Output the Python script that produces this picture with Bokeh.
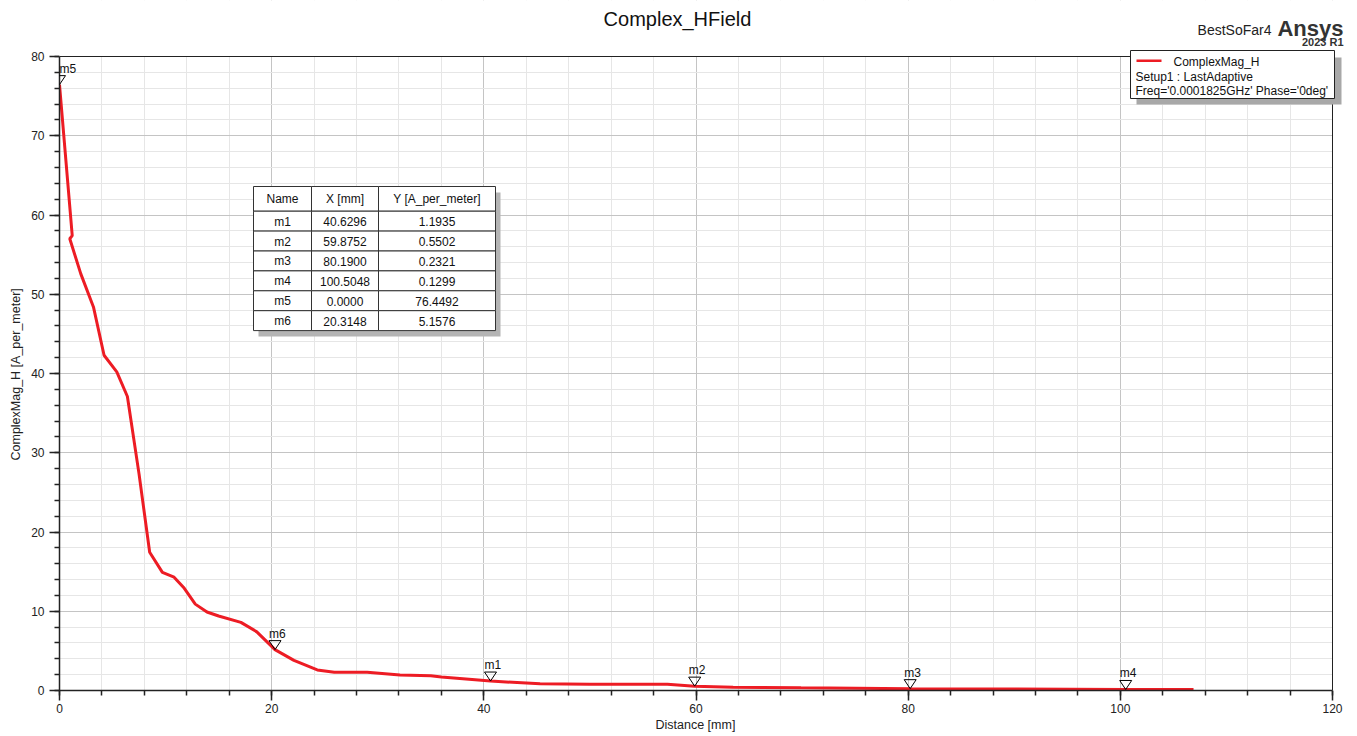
from bokeh.plotting import figure
from bokeh.models import (Range1d, SingleIntervalTicker, Label, LabelSet, BoxAnnotation,
                          ColumnDataSource, PolyAnnotation, Title)
from bokeh.core.properties import value
from bokeh.embed import file_html
from bokeh.resources import INLINE

# ---------------- data ----------------
curve_x = [0.0, 1.2, 0.97, 2.0, 3.2, 4.2, 5.4, 6.4, 7.5, 8.5, 9.7, 10.8, 11.7, 12.8, 13.9,
           15.0, 17.1, 18.6, 20.31, 22.1, 24.3, 25.9, 29.0, 32.1, 35.0, 36.0, 40.63, 45.3,
           50.0, 57.3, 59.88, 63.5, 69.9, 80.19, 90.0, 100.5, 106.9]
curve_y = [76.45, 57.4, 57.0, 52.6, 48.4, 42.3, 40.2, 37.1, 27.3, 17.45, 14.9, 14.3, 13.0, 10.9,
           9.9, 9.4, 8.6, 7.4, 5.16, 3.8, 2.6, 2.3, 2.3, 1.95, 1.85, 1.7, 1.19, 0.85,
           0.8, 0.78, 0.55, 0.42, 0.34, 0.23, 0.18, 0.13, 0.12]

marker_names = ["m1", "m2", "m3", "m4", "m5", "m6"]
marker_x = [40.6296, 59.8752, 80.1900, 100.5048, 0.0000, 20.3148]
marker_y = [1.1935, 0.5502, 0.2321, 0.1299, 76.4492, 5.1576]

table_header = ["Name", "X [mm]", "Y [A_per_meter]"]
table_x_text = ["40.6296", "59.8752", "80.1900", "100.5048", "0.0000", "20.3148"]
table_y_text = ["1.1935", "0.5502", "0.2321", "0.1299", "76.4492", "5.1576"]

x_ticks_interval = 20
y_ticks_interval = 10
x_label = "Distance [mm]"
y_label = "ComplexMag_H [A_per_meter]"

FONT = "Liberation Sans"

# ---------------- layout ----------------
W, H = 1357, 736
MB_L, MB_B = 59, 46          # left / bottom borders of the canvas
PLOT_W, PLOT_H = 1273, 634   # pixel size of the 0..120 x 0..80 plot box
X0, X1, Y0, Y1 = 0, 120, 0, 80
XPX = PLOT_W / (X1 - X0)
YPX = PLOT_H / (Y1 - Y0)
# the frame also spans the header band and right margin (so texts there are not clipped)
X_END = X1 + (W - MB_L - PLOT_W) / XPX
Y_END = Y1 + (H - MB_B - PLOT_H) / YPX

# page -> frame screen coordinates
PL = MB_L
PB = H - MB_B
def sx(px):
    return px - PL
def sy(py):
    return PB - py

p = figure(width=W, height=H, output_backend="svg", toolbar_location=None,
           x_range=Range1d(X0, X_END), y_range=Range1d(Y0, Y_END),
           min_border_left=MB_L, min_border_right=0,
           min_border_top=0, min_border_bottom=MB_B)

p.outline_line_color = None
p.background_fill_color = "white"
p.border_fill_color = "white"

p.xaxis.ticker = SingleIntervalTicker(interval=x_ticks_interval, num_minor_ticks=5)
p.yaxis.ticker = SingleIntervalTicker(interval=y_ticks_interval, num_minor_ticks=5)
p.xgrid.ticker = p.xaxis.ticker
p.ygrid.ticker = p.yaxis.ticker
p.xaxis.bounds = (X0, X1)
p.yaxis.bounds = (Y0, Y1)

for ax in (p.xaxis, p.yaxis):
    ax.axis_line_color = "#222222"
    ax.axis_line_width = 1.5
    ax.major_tick_line_color = "#222222"
    ax.minor_tick_line_color = "#222222"
    ax.major_tick_line_width = 1.5
    ax.minor_tick_line_width = 1.5
    ax.major_tick_in = 0
    ax.major_tick_out = 10
    ax.minor_tick_in = 0
    ax.minor_tick_out = 5
    ax.major_label_text_font = FONT
    ax.major_label_text_font_size = "12px"
    ax.major_label_text_color = "#222222"

p.xaxis.major_label_standoff = 3
p.yaxis.major_label_standoff = 5

# axis titles, positioned along the plot box (not the extended frame)
p.add_layout(Title(text=y_label, align="left", offset=230, vertical_align="bottom",
                   standoff=11, text_font=FONT, text_font_size="12.5px",
                   text_font_style="normal", text_color="#222222"), "left")
p.add_layout(Title(text=x_label, align="left", offset=596, vertical_align="middle",
                   standoff=3, text_font=FONT, text_font_size="12.5px",
                   text_font_style="normal", text_color="#222222"), "below")

for g in (p.xgrid, p.ygrid):
    g.grid_line_color = "#c4c4c4"
    g.grid_line_width = 1
    g.minor_grid_line_color = "#e6e6e6"
    g.minor_grid_line_width = 1

# curve
p.line(curve_x, curve_y, line_color="#ED1C24", line_width=3)

# white covers outside the plot box (header band and right margin)
p.add_layout(BoxAnnotation(bottom=Y1, fill_color="white", fill_alpha=1, line_alpha=0))
p.add_layout(BoxAnnotation(left=X1, fill_color="white", fill_alpha=1, line_alpha=0))
# plot box border
p.add_layout(BoxAnnotation(left=X0, right=X1, bottom=Y0, top=Y1, fill_alpha=0,
                           line_color="#222222", line_alpha=1, line_width=1))

# markers (open downward triangles with tip on the point)
for mx, my in zip(marker_x, marker_y):
    p.add_layout(PolyAnnotation(
        xs=[mx - 6 / XPX, mx + 6 / XPX, mx],
        ys=[my + 9 / YPX, my + 9 / YPX, my],
        fill_alpha=0, line_color="black", line_alpha=1, line_width=1))

label_dx = [0 if mx - 6 / XPX < X0 else -6 for mx in marker_x]
msrc = ColumnDataSource(dict(x=marker_x, y=marker_y, name=marker_names, dx=label_dx))
p.add_layout(LabelSet(x="x", y="y", text="name", source=msrc, x_offset="dx", y_offset=12,
                      text_font=value(FONT), text_font_size=value("12px"),
                      text_color="#111111", text_baseline="alphabetic"))

def slabel(px, py, text, size="12px", align="left", baseline="middle", style="normal",
           color="#111111"):
    return Label(x=sx(px), y=sy(py), x_units="screen", y_units="screen", text=text,
                 text_font=FONT, text_font_size=size, text_font_style=style,
                 text_color=color, text_align=align, text_baseline=baseline)

# header
p.add_layout(slabel(677, 18, "Complex_HField", size="20px", align="center"))
p.add_layout(slabel(1271, 29, "BestSoFar4", size="14px", align="right", baseline="alphabetic",
                    color="#222222"))
p.add_layout(slabel(1343, 28, "Ansys", size="22px", align="right", baseline="alphabetic",
                    style="bold", color="#333333"))
p.add_layout(slabel(1343, 41, "2023 R1", size="11px", align="right", baseline="alphabetic",
                    style="bold", color="#333333"))

# legend box
def sbox(l, r, t, b, **kw):
    return BoxAnnotation(left=sx(l), right=sx(r), top=sy(t), bottom=sy(b),
                         left_units="screen", right_units="screen",
                         top_units="screen", bottom_units="screen", **kw)

p.add_layout(sbox(1136, 1341, 57, 104, fill_color="#a8a8a8", fill_alpha=1, line_alpha=0))
p.add_layout(sbox(1130, 1334, 50, 98, fill_color="white", fill_alpha=1,
                  line_color="#222222", line_alpha=1, line_width=1))
p.add_layout(sbox(1136, 1161, 59, 61.5, fill_color="#ED1C24", fill_alpha=1, line_alpha=0))
legend_lines = [("ComplexMag_H", 1173, 61), ("Setup1 : LastAdaptive", 1135, 76),
                ("Freq='0.0001825GHz' Phase='0deg'", 1135, 90)]
for txt, lx, ly in legend_lines:
    p.add_layout(slabel(lx, ly, txt))

# marker table
col_edges = [253, 311, 378, 495]
row_edges = [186, 210.7] + [210.7 + 19.9 * (k + 1) for k in range(6)]
p.add_layout(sbox(col_edges[0] + 5, col_edges[-1] + 5, row_edges[0] + 6, row_edges[-1] + 6,
                  fill_color="#b4b4b4", fill_alpha=1, line_alpha=0))
rows = [table_header] + [[n, xt, yt] for n, xt, yt in zip(marker_names, table_x_text, table_y_text)]
for ri, row in enumerate(rows):
    for ci, cell in enumerate(row):
        l, r = col_edges[ci], col_edges[ci + 1]
        t, b = row_edges[ri], row_edges[ri + 1]
        p.add_layout(sbox(l, r, t, b, fill_color="white", fill_alpha=1,
                          line_color="#333333", line_alpha=1, line_width=1))
        p.add_layout(slabel((l + r) / 2, (t + b) / 2 + 0.5, cell, align="center"))

open("out.html", "w").write(file_html(p, INLINE))
